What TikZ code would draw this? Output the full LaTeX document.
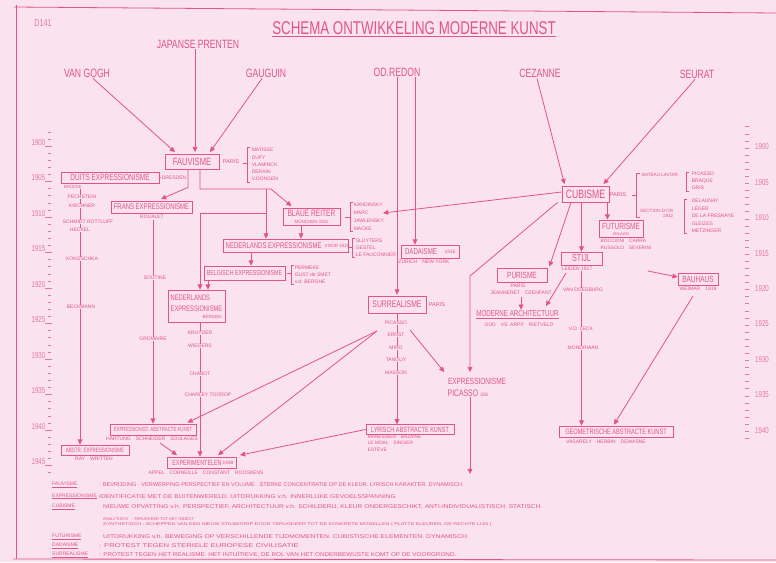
\documentclass[tikz,border=0pt]{standalone}
\usepackage{fontspec}
\usepackage{graphicx}
\setmainfont{Liberation Sans}
\newfontfamily\hand[FakeStretch=0.72]{Liberation Sans}
\usetikzlibrary{arrows.meta}
\definecolor{bg}{RGB}{251,227,237}
\definecolor{ink}{RGB}{224,84,138}
\definecolor{inkl}{RGB}{230,118,160}
\newcommand\fsz[1]{\fontsize{#1}{#1}\selectfont}
\newcommand\fsl[2]{\fontsize{#1}{#2}\selectfont}
\tikzset{
 ln/.style={draw=ink, line width=0.8pt},
 tick/.style={draw=inkl, line width=0.6pt},
 arr/.style={draw=ink, line width=0.8pt, -{Triangle[width=4.8pt,length=5.2pt]}},
 box/.style={draw=ink, line width=0.8pt, text=ink, inner sep=0pt},
 lbl/.style={text=ink, inner sep=0.5pt},
 artist/.style={text=ink, inner sep=1pt, font=\hand\fsz{12}},
 nm/.style={text=ink, inner sep=0.6pt, font=\fsz{5}},
 nmb/.style={nm, fill=bg},
 lst/.style={text=ink, inner sep=0.6pt, align=left, anchor=west},
 yr/.style={text=inkl, inner sep=0pt, font=\hand\fsz{8.5}},
 leg/.style={text=ink, inner sep=0pt, anchor=west, font=\fsz{5.5}},
 legh/.style={text=ink, inner sep=0pt, anchor=west, font=\fsz{5}},
}
\begin{document}
\begin{tikzpicture}[x=1pt,y=-1pt]
\fill[bg] (0,0) rectangle (776,562);
\useasboundingbox (0,0) rectangle (776,562);
% frame
\draw[ln] (14,7) -- (776,13);
\draw[ln] (16,5) -- (16,559);
\draw[ln] (13,559) -- (776,560);
% title
\node[text=inkl, font=\hand\fsz{10}, inner sep=0pt] (dnum) at (43,23) {D141};
\node[text=ink, font=\hand\fsz{18.5}, inner sep=0pt] (title) at (414,28) {SCHEMA ONTWIKKELING MODERNE KUNST};
\draw[ln] ([yshift=-1.5pt]title.south west) -- ([yshift=-1.5pt]title.south east);
% year axes
\foreach \yr in {1898,...,1946}{\draw[tick] (47.5,{146+(\yr-1900)*7.1}) -- (51,{146+(\yr-1900)*7.1});}
\foreach \yr in {1900,1905,...,1945}{
  \node[yr,anchor=east] (yl\yr) at (45.5,{142.5+(\yr-1900)*7.1}) {\yr};
  \draw[tick] (45,{146+(\yr-1900)*7.1}) -- (52,{146+(\yr-1900)*7.1});}
\foreach \yr in {1897,...,1941}{\draw[tick] (745,{148+(\yr-1900)*7.08}) -- (749,{148+(\yr-1900)*7.08});}
\foreach \yr in {1900,1905,...,1940}{
  \node[yr,anchor=west] (yr\yr) at (755,{147+(\yr-1900)*7.08}) {\yr};}
% artists
\node[artist] (vangogh) at (87,73) {VAN GOGH};
\node[artist] (japanse) at (198,44) {JAPANSE PRENTEN};
\node[artist] (gauguin) at (266,73) {GAUGUIN};
\node[artist] (redon) at (397,72) {OD.REDON};
\node[artist] (cezanne) at (540,73) {CEZANNE};
\node[artist] (seurat) at (697,74) {SEURAT};
% boxes
\node[box, minimum width=54pt, minimum height=15pt, font=\hand\fsz{10.5}] (fauv) at (192,161.5) {FAUVISME};
\node[nm, font=\fsz{5.5}] (fauvpar) at (231,162) {PARIS};
\node[lst, font=\fsl{5}{7.2}] (fauvnm) at (251,164.5) {MATISSE\\DUFY\\VLAMINCK\\DERAIN\\V.DONGEN};
\node[box, minimum width=98pt, minimum height=11pt, font=\hand\fsz{9}] (duits) at (110,177.5) {DUITS EXPRESSIONISME};
\node[nm] (dresden) at (174,178) {DRESDEN};
\node[box, minimum width=81pt, minimum height=12pt, font=\hand\fsz{8.3}] (frans) at (151.5,207) {FRANS EXPRESSIONISME};
\node[nm] (rouault) at (152,216.5) {ROUAULT};
\node[box, minimum width=57pt, minimum height=17pt] (blaue) at (311.5,216.5) {};
\node[lbl, font=\hand\fsz{9.2}] (blauet) at (311.5,213.5) {BLAUE REITER};
\node[nm, font=\fsz{4.5}] (munchen) at (311.5,221.5) {MÜNCHEN 1911};
\node[lst, font=\fsl{5}{8}] (blauenm) at (353,217) {KANDINSKY\\MARC\\JAWLENSKY\\MACKE};
\node[box, minimum width=125pt, minimum height=13pt] (nedlong) at (285.5,245.5) {};
\node[lbl, anchor=west, font=\hand\fsz{8.3}] (nedlongt) at (225,245.5) {NEDERLANDS EXPRESSIONISME};
\node[nm, font=\fsz{4.5}] (voor) at (337,246) {VOOR 1920};
\node[lst, font=\fsl{5}{7}] (nedlnm) at (355,248) {SLUYTERS\\GESTEL\\LE FAUCONNIER};
\node[box, minimum width=81pt, minimum height=14pt, font=\hand\fsz{7.3}] (belg) at (244.5,273) {BELGISCH EXPRESSIONISME};
\node[lst, font=\fsl{5}{7}] (belgnm) at (294,275) {PERMEKE\\GUST de SMET\\v.d. BERGHE};
\node[box, minimum width=57pt, minimum height=32pt] (nedl) at (196.5,306) {};
\node[lbl, anchor=west, font=\hand\fsz{8}] (nedl1) at (170,298) {NEDERLANDS};
\node[lbl, anchor=west, font=\hand\fsz{8}] (nedl2) at (170,309) {EXPRESSIONISME};
\node[nm, font=\fsz{4.5}] (bergen) at (212,317) {BERGEN};
\node[box, minimum width=86pt, minimum height=11pt, font=\hand\fsz{6}] (exab) at (153,429.5) {EXPRESSIONIST. ABSTRACTE KUNST};
\node[nm] (exabnm) at (152,438.5) {HARTUNG\quad SCHNEIDER\quad SOULAGES};
\node[box, minimum width=68pt, minimum height=10pt, font=\hand\fsz{6.3}] (abex) at (95,450) {ABSTR. EXPRESSIONISME};
\node[nm] (abexnm) at (94,458.5) {RAY\quad WRITTEN};
\node[box, minimum width=69pt, minimum height=11pt] (expe) at (201.5,462.5) {};
\node[lbl, font=\hand\fsz{7.5}] (expet) at (197,462.5) {EXPERIMENTELEN};
\node[nm, font=\fsz{4.8}] (expey) at (228,463) {1948};
\node[nm] (expenm) at (206,473) {APPEL\quad CORNEILLE\quad CONSTANT\quad ROOSKENS};
\node[box, minimum width=58pt, minimum height=17pt, font=\hand\fsz{9.5}] (surr) at (397,304.5) {SURREALISME};
\node[nm, font=\fsz{5.5}] (surrpar) at (437,305) {PARIS};
\node[box, minimum width=88pt, minimum height=9.5pt, font=\hand\fsz{7.6}] (lyr) at (410,429.5) {LYRISCH ABSTRACTE KUNST};
\node[lst, anchor=north west, font=\fsl{4.8}{6.8}] (lyrnm) at (367,434) {MANESSIER\quad BAZAINE\\LE MOAL\quad SINGIER\\ESTÈVE};
\node[lbl, font=\hand\fsz{9}] (picA) at (477,381) {EXPRESSIONISME};
\node[lbl, anchor=west, font=\hand\fsz{9.5}] (picB) at (447,393) {PICASSO \fsz{5}1936};
\node[box, minimum width=58pt, minimum height=13pt] (dada) at (430,251.5) {};
\node[lbl, font=\hand\fsz{8.5}] (dadat) at (421,251.5) {DADAISME};
\node[nm, font=\fsz{4.8}] (daday) at (450,252) {1916};
\node[nm] (dadanm) at (424,261.5) {ZURICH\quad NEW YORK};
\node[box, minimum width=47pt, minimum height=16pt, font=\hand\fsz{12}] (cub) at (585.5,194) {CUBISME};
\node[nm, font=\fsz{5.5}] (cubpar) at (618,195) {PARIS};
\node[nm, font=\fsz{4.6}] (bateau) at (660,174.5) {BATEAU LAVOIR};
\node[nm, align=right, anchor=east, font=\fsl{4.6}{5.5}] (section) at (674,213.5) {SECTION D'OR\\1912};
\node[lst, font=\fsl{5}{7}] (cubnm1) at (691,181) {PICASSO\\BRAQUE\\GRIS};
\node[lst, font=\fsl{5}{7.5}] (cubnm2) at (691,216) {DELAUNAY\\LÉGER\\DE LA FRESNAYE\\GLEIZES\\METZINGER};
\node[box, minimum width=44pt, minimum height=17pt] (fut) at (621,228.5) {};
\node[lbl, font=\hand\fsz{9}] (futt) at (621,226) {FUTURISME};
\node[nm, font=\fsz{4.2}] (milaan) at (621,234) {MILAAN};
\node[nm, align=left, font=\fsl{4.8}{7}] (futnm) at (626,244.5) {BOCCIONI\quad CARRA\\RUSSOLO\quad SEVERINI};
\node[box, minimum width=41pt, minimum height=13pt, font=\hand\fsz{10}] (stijl) at (581.5,258.5) {STIJL};
\node[box, minimum width=114pt, minimum height=11pt, font=\hand\fsz{7.8}] (geo) at (616,431.5) {GEOMETRISCHE ABSTRACTE KUNST};
\node[nm] (geonm) at (606,441.5) {VASARELY\quad HERBIN\quad DEWASNE};
\node[box, minimum width=50pt, minimum height=14pt, font=\hand\fsz{9}] (pur) at (522,275) {PURISME};
\node[nm] (purpar) at (518,286) {PARIS};
\node[nm] (purnm) at (521,292.5) {JEANNERET\quad OZENFANT};
\node[lbl, font=\hand\fsz{8.6}] (moda) at (517.5,313.5) {MODERNE ARCHITECTUUR};
\draw[ln] ([yshift=-1.2pt]moda.south west) -- ([yshift=-1.2pt]moda.south east);
\node[nm] (modanm) at (519,324.5) {OUD\quad VS. ARPP\quad RIETVELD};
\node[box, minimum width=40pt, minimum height=12pt, font=\hand\fsz{9}] (bau) at (698,279) {BAUHAUS};
\node[nm] (baunm) at (698,289) {WEIMAR\quad 1919};
% brackets
\draw[ln] (250,147) -- (247,147) -- (247,182) -- (250,182); \draw[ln] (243,163) -- (247,163);
\draw[ln] (353,202) -- (350,202) -- (350,231) -- (353,231); \draw[ln] (345,217) -- (350,217);
\draw[ln] (355,238) -- (352,238) -- (352,257) -- (355,257); \draw[ln] (349,247) -- (352,247);
\draw[ln] (294,265) -- (291,265) -- (291,284) -- (294,284); \draw[ln] (287,273) -- (291,273);
\draw[ln] (640,173) -- (636,173) -- (636,217) -- (640,217); \draw[ln] (632,195) -- (636,195);
\draw[ln] (689,172) -- (686,172) -- (686,191) -- (689,191);
\draw[ln] (687,199) -- (684,199) -- (684,233) -- (687,233);
% coordinates
\coordinate (dtop) at (80,183.5);
\coordinate (ftop) at (153,219.5);
\coordinate (jn) at (266,189);
\coordinate (jn2) at (266,213);
\coordinate (brtip) at (383,213);
\coordinate (eab) at (160,443);
\coordinate (sl) at (377,331);
\coordinate (sr) at (410,330);
\coordinate (cpk) at (470,276);
\coordinate (picend) at (470,474);
\coordinate (pm) at (521,297);
\coordinate (sm) at (566,273);
\coordinate (mtip) at (546,306);
\coordinate (bin) at (648,271);
\coordinate (bout) at (693,296);
% connectors
\draw[arr] ([xshift=6pt]vangogh.south) -- ([xshift=-17pt,yshift=1.5pt]fauv.north);
\draw[arr] ([xshift=-3pt]japanse.south) -- ([xshift=3pt,yshift=1.5pt]fauv.north);
\draw[arr] ([xshift=-4pt]gauguin.south) -- ([xshift=18pt,yshift=1.5pt]fauv.north);
\draw[arr] (redon.south -| surr.north) -- ([yshift=1pt]surr.north);
\draw[arr] ([xshift=18pt]redon.south) -- ([xshift=18pt]redon.south |- dada.north);
\draw[arr] ([xshift=-3pt]cezanne.south) -- ([xshift=-21pt,yshift=1.5pt]cub.north);
\draw[arr] ([xshift=-2pt]seurat.south) -- ([xshift=18pt,yshift=1.5pt]cub.north);
\draw[ln] (duits.east) -- (dresden.west);
\draw[arr] (dtop) -- (dtop |- abex.north);
\draw[arr] (ftop) -- (ftop |- exab.north);
\draw[arr] ([xshift=-4pt]fauv.south) -- ++(0,18) -- ([xshift=9.5pt,yshift=1.5pt]frans.north);
\draw[arr] ([xshift=8pt]fauv.south) -- ([xshift=8pt]fauv.south |- jn) -- (271,189) -- ([xshift=-20pt,yshift=1.5pt]blaue.north);
\draw[arr] (jn) -- (jn |- nedlong.north);
\draw[arr] (jn2) -- ([xshift=8pt]fauv.south |- jn2) -- ([xshift=8pt]fauv.south |- nedl.north);
\draw[arr] ([xshift=-10.5pt]blaue.south) -- ([xshift=-10.5pt]blaue.south |- nedlong.north);
\draw[arr] ([xshift=6.5pt]belg.north |- nedlong.south) -- ([xshift=6.5pt]belg.north);
\draw[arr] ([xshift=-36.5pt]belg.south) -- ([xshift=-36.5pt]belg.south |- nedl.north);
\draw[arr] ([xshift=3.5pt]nedl.south) -- ([xshift=3.5pt]nedl.south |- expe.north);
\draw[arr] (eab) -- ([xshift=-24.5pt,yshift=1.5pt]expe.north);
\draw[arr] (sl) -- ([xshift=16.5pt,yshift=1.5pt]expe.north);
\draw[arr] (sl) -- ([xshift=-9pt,yshift=1pt]exab.north east);
\draw[arr] (lyr.west) -- ([xshift=38.5pt,yshift=1.5pt]expe.north);
\draw[arr] (surr.south) -- (surr.south |- lyr.north);
\draw[arr] (sr) -- ([xshift=-3pt,yshift=5pt]picA.north west);
\draw[arr] ([xshift=-4pt]cub.south west) -- (cpk) -- ([yshift=5pt]picA.north -| cpk);
\draw[arr] (cpk |- picB.south) -- (picend);
\draw[arr] ([yshift=2pt]cub.west) -- (brtip);
\draw[arr] ([xshift=-2pt]cub.south east) -- ([xshift=-2pt]cub.south east |- fut.north);
\draw[arr] (stijl.north |- cub.south) -- (stijl.north);
\draw[arr] (stijl.south) -- (stijl.south |- geo.north);
\draw[arr] ([xshift=-14.5pt]cub.south) -- ([xshift=2pt,yshift=1pt]pur.north east);
\draw[arr] (pm) -- (pm |- moda.north);
\draw[arr] (sm) -- (mtip);
\draw[arr] (bin) -- ([yshift=2pt]bau.west);
\draw[arr] (bout) -- ([xshift=-2pt,yshift=1pt]geo.north);
% names on lines
\node[nmb, font=\fsz{4.2}] (brucke) at (73,186.5) {BRÜCKE};
\node[nmb] (pech) at (82,197) {PECHSTEIN};
\node[nmb] (kirch) at (82,206) {KIRCHNER};
\node[nmb] (schmidt) at (88,222) {SCHMIDT ROTTLUFF};
\node[nmb] (heckel) at (80,230) {HECKEL};
\node[nmb] (koko) at (82,259) {KOKOSCHKA};
\node[nmb] (beck) at (81,307) {BECKMANN};
\node[nmb] (soutine) at (155,278) {SOUTINE};
\node[nmb] (gromaire) at (153,339) {GROMAIRE};
\node[nmb] (kruyder) at (200,333) {KRUYDER};
\node[nmb] (wiegers) at (200,346) {WIEGERS};
\node[nmb] (chabot) at (200,374) {CHABOT};
\node[nmb] (toorop) at (208,395) {CHARLEY TOOROP};
\node[nmb] (spic) at (396,323) {PICASSO};
\node[nmb] (sernst) at (396,335) {ERNST};
\node[nmb] (smiro) at (396,348) {MIRO};
\node[nmb] (stanguy) at (396,360) {TANGUY};
\node[nmb] (smasson) at (396,373) {MASSON};
\node[nmb] (leiden) at (577,268.5) {LEIDEN 1917};
\node[nmb] (doesburg) at (583,290) {VAN DOESBURG};
\node[nmb] (leck) at (581,329) {V.D. LECK};
\node[nmb] (mondriaan) at (583,348) {MONDRIAAN};
% legend
\node[legh] (lg1) at (52,485) {\underline{FAUVISME}};
\node[leg] (lt1) at (99,485) {\scalebox{1.02}[1]{: BEVRIJDING · VERWERPING PERSPECTIEF EN VOLUME . STERKE CONCENTRATIE OP DE KLEUR. LYRISCH KARAKTER. DYNAMISCH.}};
\node[legh] (lg2) at (52,496.5) {\underline{EXPRESSIONISME}};
\node[leg] (lt2) at (99,496.5) {\scalebox{1.2}[1]{IDENTIFICATIE MET DE BUITENWERELD. UITDRUKKING v.h. INNERLIJKE GEVOELSSPANNING}};
\node[legh] (lg3) at (52,507) {\underline{CUBISME}};
\node[leg] (lt3) at (103,507) {\scalebox{1.2}[1]{NIEUWE OPVATTING v.h. PERSPECTIEF, ARCHITECTUUR v.h. SCHILDERIJ, KLEUR ONDERGESCHIKT, ANTI-INDIVIDUALISTISCH, STATISCH.}};
\node[leg, font=\fsz{4}] (lt3a) at (103,519) {ANALYTISCH\quad : TERUGKEER TOT HET OBJECT};
\node[leg, font=\fsz{4}] (lt3b) at (103,524.5) {\scalebox{1.35}[1]{SYNTHETISCH : SCHEPPEN VAN EEN NIEUW STILBEGRIP DOOR TERUGKEER TOT DE KONKRETE MODELLEN ( PLATTE KLEUREN, DE RECHTE LIJN ).}};
\node[legh] (lg4) at (52,537) {\underline{FUTURISME}};
\node[leg] (lt4) at (103,537) {\scalebox{1.24}[1]{UITDRUKKING v.h. BEWEGING OP VERSCHILLENDE TIJDMOMENTEN. CUBISTISCHE ELEMENTEN. DYNAMISCH.}};
\node[legh] (lg5) at (52,546) {\underline{DADAISME}};
\node[leg] (lt5) at (99,546) {\scalebox{1.4}[1]{: PROTEST TEGEN STERIELE EUROPESE CIVILISATIE}};
\node[legh] (lg6) at (52,555) {\underline{SURREALISME}};
\node[leg] (lt6) at (99,555) {\scalebox{1.15}[1]{: PROTEST TEGEN HET REALISME. HET INTUÏTIEVE, DE ROL VAN HET ONDERBEWUSTE KOMT OP DE VOORGROND.}};
\end{tikzpicture}
\end{document}
